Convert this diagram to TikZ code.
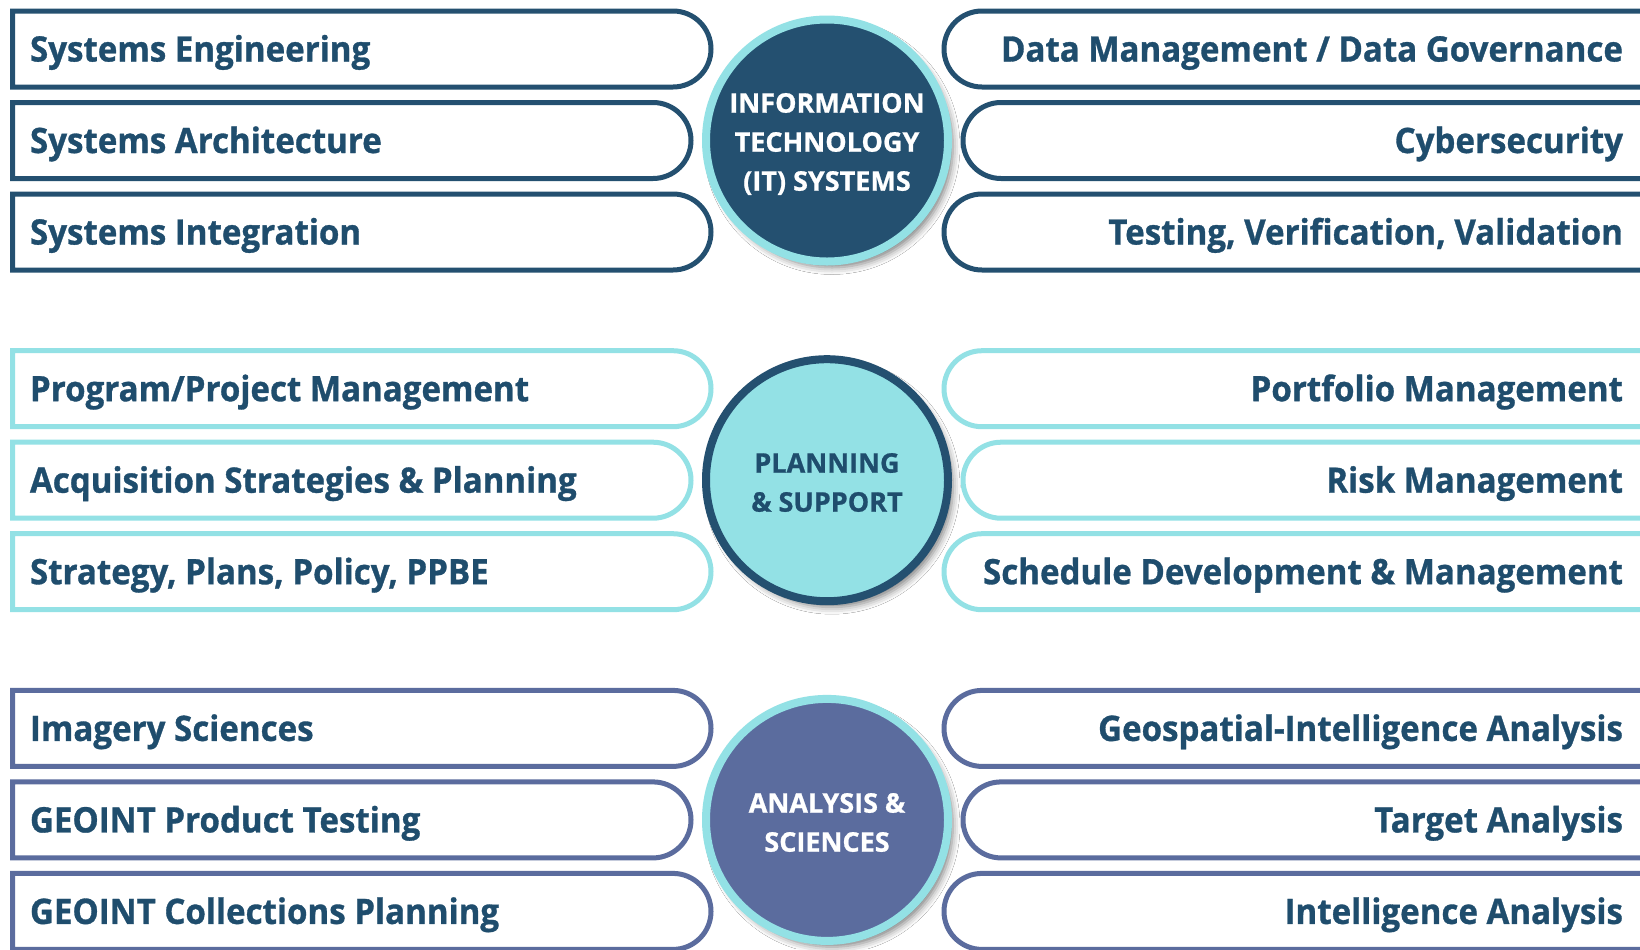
\documentclass[tikz,border=0pt]{standalone}
\usepackage{fontspec}
\setmainfont{Open Sans}[BoldFeatures={FakeBold=0.8}]
\newfontfamily\boxfont{Open Sans}[FakeStretch=0.945, BoldFeatures={FakeBold=0.9}]
\usetikzlibrary{shapes.misc,shadows.blur}
\definecolor{navy}{HTML}{245070}
\definecolor{txt}{HTML}{1F4D6D}
\definecolor{cyanc}{HTML}{93E1E5}
\definecolor{purp}{HTML}{5B6C9E}
\begin{document}
\begin{tikzpicture}[x=0.5pt,y=-0.5pt,
  boxbase/.style={draw, rounded rectangle, minimum height=38pt, inner sep=0pt, outer sep=0pt, line width=2.5pt, fill=white},
  lbox/.style={boxbase, rounded rectangle left arc=none},
  rbox/.style={boxbase, rounded rectangle right arc=none},
  lw/.style={minimum width=349.25pt},
  lwn/.style={minimum width=339.25pt},
  rw/.style={minimum width=378pt},
  rwn/.style={minimum width=368.5pt},
  btext/.style={inner sep=0pt, outer sep=0pt, text=txt, text height=12.5pt, text depth=0pt, font=\boxfont\bfseries\fontsize{17.5}{21}\selectfont},
  ltext/.style={btext, anchor=west},
  rtext/.style={btext, anchor=east},
  circ/.style={circle, draw, minimum size=121pt, inner sep=0pt, line width=4pt,
    blur shadow={shadow xshift=2.5pt, shadow yshift=-3pt, shadow blur radius=3.5pt, shadow opacity=50}},
  ctext/.style={align=center, inner sep=0pt, font=\bfseries\fontsize{13.5}{19.5}\selectfont}
]
\useasboundingbox (0,0) rectangle (1640,949);
\clip (0,0) rectangle (1640,949);
\fill[white] (0,0) rectangle (1640,949);

% ---------- Group 1: IT systems ----------
\node[lbox, lw, draw=navy] (l1a) at (361.75,49) {};
\node[lbox, lwn, draw=navy] (l1b) at (351.75,140.5) {};
\node[lbox, lw, draw=navy] (l1c) at (361.75,232) {};
\node[rbox, rw, draw=navy] (r1a) at (1322,49) {};
\node[rbox, rwn, draw=navy] (r1b) at (1331.5,140.5) {};
\node[rbox, rw, draw=navy] (r1c) at (1322,232) {};
\node[ltext] (tl1a) at (30,49) {Systems Engineering};
\node[ltext] (tl1b) at (30,140.5) {Systems Architecture};
\node[ltext] (tl1c) at (30,232) {Systems Integration};
\node[rtext] (tr1a) at (1623,49) {Data Management / Data Governance};
\node[rtext] (tr1b) at (1623,140.5) {Cybersecurity};
\node[rtext] (tr1c) at (1623,232) {Testing, Verification, Validation};
\node[circ, fill=navy, draw=cyanc] (c1) at (827,140.5) {};
\node[ctext, text=white] (c1t) at (827,144) {INFORMATION\\TECHNOLOGY\\(IT) SYSTEMS};

% ---------- Group 2: Planning & Support ----------
\node[lbox, lw, draw=cyanc] (l2a) at (361.75,388.7) {};
\node[lbox, lwn, draw=cyanc] (l2b) at (351.75,480.2) {};
\node[lbox, lw, draw=cyanc] (l2c) at (361.75,571.7) {};
\node[rbox, rw, draw=cyanc] (r2a) at (1322,388.7) {};
\node[rbox, rwn, draw=cyanc] (r2b) at (1331.5,480.2) {};
\node[rbox, rw, draw=cyanc] (r2c) at (1322,571.7) {};
\node[ltext] (tl2a) at (30,388.7) {Program/Project Management};
\node[ltext] (tl2b) at (30,480.2) {Acquisition Strategies \& Planning};
\node[ltext] (tl2c) at (30,571.7) {Strategy, Plans, Policy, PPBE};
\node[rtext] (tr2a) at (1623,388.7) {Portfolio Management};
\node[rtext] (tr2b) at (1623,480.2) {Risk Management};
\node[rtext] (tr2c) at (1623,571.7) {Schedule Development \& Management};
\node[circ, fill=cyanc, draw=navy] (c2) at (827,480.2) {};
\node[ctext, text=txt] (c2t) at (827,482.5) {PLANNING\\\& SUPPORT};

% ---------- Group 3: Analysis & Sciences ----------
\node[lbox, lw, draw=purp] (l3a) at (361.75,728.4) {};
\node[lbox, lwn, draw=purp] (l3b) at (351.75,819.9) {};
\node[lbox, lw, draw=purp] (l3c) at (361.75,911.4) {};
\node[rbox, rw, draw=purp] (r3a) at (1322,728.4) {};
\node[rbox, rwn, draw=purp] (r3b) at (1331.5,819.9) {};
\node[rbox, rw, draw=purp] (r3c) at (1322,911.4) {};
\node[ltext] (tl3a) at (30,728.4) {Imagery Sciences};
\node[ltext] (tl3b) at (30,819.9) {GEOINT Product Testing};
\node[ltext] (tl3c) at (30,911.4) {GEOINT Collections Planning};
\node[rtext] (tr3a) at (1623,728.4) {Geospatial-Intelligence Analysis};
\node[rtext] (tr3b) at (1623,819.9) {Target Analysis};
\node[rtext] (tr3c) at (1623,911.4) {Intelligence Analysis};
\node[circ, fill=purp, draw=cyanc] (c3) at (827,819.9) {};
\node[ctext, text=white] (c3t) at (827,822.5) {ANALYSIS \&\\SCIENCES};
\end{tikzpicture}
\end{document}
